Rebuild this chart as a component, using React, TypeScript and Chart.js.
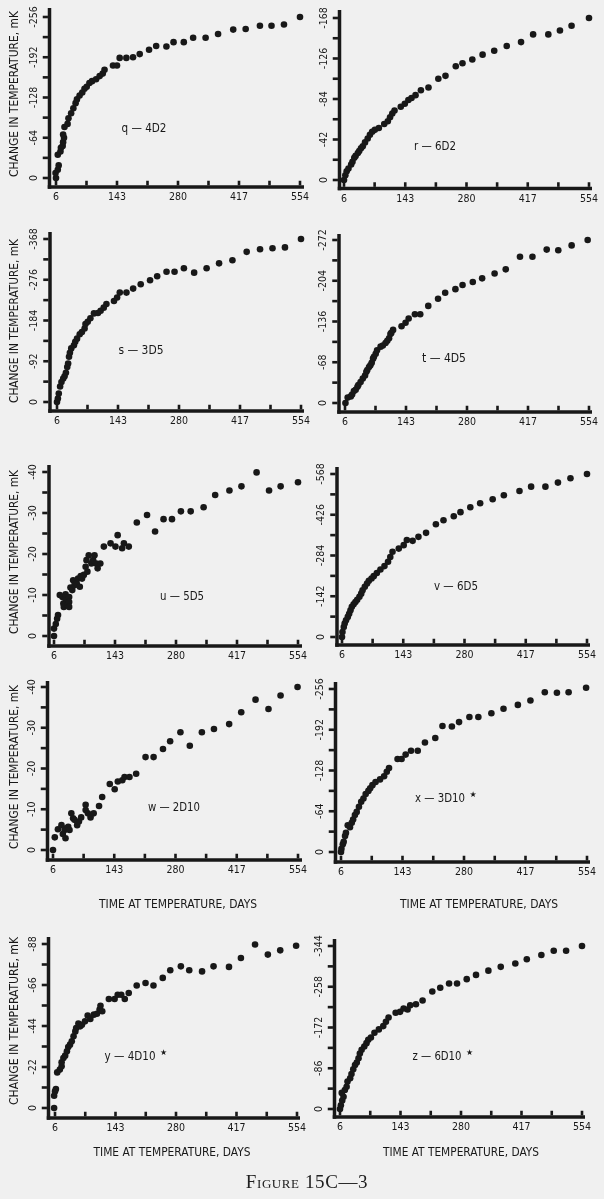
import React, { useEffect, useRef } from 'react';
import { Chart, registerables } from 'chart.js';

Chart.register(...registerables);

// ---------------- data ----------------
const xTickValues = [6, 143, 280, 417, 554];

const qDays = [6, 5, 10, 12, 10, 16, 17, 21, 22, 24, 22, 25, 32, 34, 40, 45, 50, 53, 59, 65, 70, 75, 81, 87, 96, 104, 111, 115, 134, 143, 149, 164, 179, 194, 215, 231, 254, 270, 293, 314, 342, 370, 404, 432, 464, 490, 518, 554];
const qChange = [0, -8, -13, -20, -37, -42, -48, -51, -57, -64, -69, -81, -86, -95, -103, -111, -119, -125, -131, -136, -142, -145, -151, -154, -157, -162, -166, -172, -179, -179, -191, -191, -192, -197, -204, -210, -209, -216, -216, -223, -223, -229, -236, -237, -242, -242, -244, -256];
const qTicks = [0, -64, -128, -192, -256];

const rDays = [6, 9, 12, 16, 22, 25, 29, 32, 37, 40, 44, 48, 53, 59, 64, 69, 75, 84, 96, 104, 109, 114, 119, 133, 142, 150, 157, 166, 178, 195, 217, 233, 256, 271, 293, 316, 342, 370, 402, 429, 463, 489, 515, 554];
const rChange = [0, -5, -9, -12, -16, -19, -23, -25, -28, -30, -33, -35, -39, -43, -47, -50, -52, -54, -58, -61, -65, -69, -72, -76, -79, -83, -85, -88, -93, -96, -105, -108, -118, -121, -125, -130, -134, -139, -143, -151, -151, -155, -160, -168];
const rTicks = [0, -42, -84, -126, -168];

const sDays = [6, 8, 10, 13, 16, 20, 23, 26, 29, 31, 33, 35, 38, 44, 47, 51, 57, 62, 68, 70, 75, 81, 89, 98, 104, 111, 117, 134, 141, 147, 162, 177, 194, 215, 231, 252, 270, 291, 314, 342, 370, 400, 432, 462, 490, 518, 554];
const sChange = [0, -8, -19, -35, -45, -53, -58, -66, -79, -87, -102, -111, -121, -128, -136, -143, -153, -158, -166, -176, -181, -189, -200, -201, -206, -213, -221, -228, -236, -247, -247, -256, -266, -275, -284, -294, -294, -302, -292, -302, -313, -320, -339, -345, -347, -349, -368];
const sTicks = [0, -92, -184, -276, -368];

const tDays = [7, 12, 19, 22, 26, 30, 34, 36, 41, 46, 51, 54, 56, 60, 63, 66, 69, 71, 75, 78, 86, 91, 97, 101, 105, 108, 110, 114, 133, 142, 149, 163, 175, 193, 215, 231, 254, 270, 293, 314, 342, 367, 399, 427, 459, 485, 515, 551];
const tChange = [0, -9, -11, -14, -20, -22, -27, -30, -35, -41, -46, -52, -55, -60, -63, -67, -74, -77, -82, -88, -94, -96, -100, -104, -108, -115, -117, -122, -128, -134, -141, -148, -148, -162, -174, -184, -190, -197, -202, -208, -216, -223, -244, -244, -256, -255, -263, -272];
const tTicks = [0, -68, -136, -204, -272];

const uDays = [6, 6, 10, 13, 15, 19, 25, 27, 28, 32, 32, 36, 40, 40, 40, 43, 47, 49, 52, 57, 60, 64, 66, 69, 73, 77, 79, 81, 84, 90, 94, 97, 101, 104, 110, 118, 133, 144, 149, 159, 163, 174, 192, 215, 233, 252, 271, 291, 313, 342, 368, 400, 427, 461, 489, 515, 554];
const uChange = [0, -1.8, -2.9, -4.2, -5.1, -10, -9.5, -7.9, -7.1, -9.1, -10.2, -7.5, -9.5, -8.3, -7.1, -11.8, -11.2, -13.6, -12.4, -12.8, -14, -12, -14.6, -14, -14.9, -16.9, -18.5, -15.7, -19.7, -17.7, -18.5, -19.7, -17.7, -16.5, -17.7, -21.8, -22.6, -21.8, -24.6, -21.4, -22.6, -21.8, -27.7, -29.5, -25.5, -28.5, -28.5, -30.4, -30.4, -31.4, -34.4, -35.5, -36.5, -39.9, -35.5, -36.5, -37.5];
const uTicks = [0, -10, -20, -30, -40];

const vDays = [6, 7, 10, 12, 15, 19, 22, 25, 28, 32, 36, 40, 45, 49, 52, 57, 62, 66, 72, 77, 84, 92, 101, 109, 114, 119, 133, 144, 151, 164, 177, 194, 216, 233, 256, 271, 293, 315, 343, 368, 403, 429, 461, 489, 517, 554];
const vChange = [0, -17, -35, -47, -58, -70, -81, -93, -105, -114, -122, -130, -140, -151, -163, -175, -186, -196, -204, -212, -223, -235, -247, -262, -279, -297, -308, -320, -338, -335, -349, -363, -393, -407, -421, -435, -452, -466, -480, -494, -509, -524, -524, -538, -553, -568];
const vTicks = [0, -142, -284, -426, -568];

const wDays = [6, 10, 17, 25, 28, 32, 34, 36, 40, 43, 47, 51, 54, 60, 64, 69, 79, 79, 84, 90, 97, 109, 116, 133, 144, 151, 161, 166, 177, 192, 213, 231, 252, 268, 291, 312, 339, 366, 400, 427, 459, 488, 515, 553];
const wChange = [0, -3.1, -5.1, -6.1, -3.9, -4.9, -2.9, -5.3, -5.7, -4.9, -9, -7.8, -7.4, -6.1, -7, -8, -11.1, -9.8, -9, -8, -9, -10.8, -13, -16.2, -14.9, -16.8, -17.1, -17.9, -17.9, -18.7, -22.8, -22.8, -24.8, -26.7, -28.9, -25.6, -28.9, -29.7, -30.9, -33.8, -36.9, -34.6, -37.9, -40];
const wTicks = [0, -10, -20, -30, -40];

const xDays = [6, 7, 10, 12, 15, 17, 21, 26, 30, 33, 37, 41, 46, 51, 56, 61, 67, 71, 76, 83, 93, 102, 108, 113, 132, 141, 150, 162, 177, 193, 216, 232, 253, 269, 292, 312, 341, 368, 400, 428, 460, 487, 513, 552];
const xChange = [0, -5, -12, -16, -25, -30, -42, -39, -46, -51, -58, -63, -71, -79, -84, -91, -96, -100, -105, -110, -114, -119, -126, -132, -146, -146, -153, -159, -159, -172, -179, -198, -197, -204, -212, -212, -218, -225, -231, -238, -251, -250, -251, -258];
const xTicksY = [0, -64, -128, -192, -256];

const yDays = [4, 4, 6, 8, 11, 17, 21, 21, 25, 29, 33, 36, 40, 44, 48, 52, 54, 59, 63, 67, 74, 80, 86, 94, 101, 107, 109, 113, 128, 141, 148, 156, 164, 173, 191, 211, 229, 250, 267, 291, 310, 339, 365, 400, 427, 459, 488, 516, 552];
const yChange = [0, -6.6, -8.9, -10.2, -19.1, -20.6, -22.4, -24.5, -26.8, -28.1, -30.4, -32.7, -34, -35.8, -38.5, -41.1, -42.9, -45.3, -43.8, -44.7, -46.5, -49.6, -47.8, -50.1, -50.6, -52.8, -54.9, -51.9, -58.5, -58.5, -60.8, -60.8, -58.5, -61.7, -65.7, -67.1, -65.7, -69.8, -73.9, -76, -73.9, -73.3, -76, -75.7, -80.5, -87.7, -82.3, -84.6, -87.1];
const yTicks = [0, -22, -44, -66, -88];

const zDays = [6, 8, 11, 14, 10, 17, 21, 23, 29, 32, 36, 40, 44, 48, 51, 55, 61, 66, 70, 76, 84, 94, 104, 110, 116, 132, 142, 150, 159, 165, 178, 193, 215, 233, 253, 271, 293, 314, 342, 370, 403, 429, 462, 490, 518, 554];
const zChange = [0, -8, -18, -26, -34, -40, -47, -58, -65, -74, -84, -93, -98, -107, -117, -125, -132, -139, -146, -151, -161, -168, -175, -184, -193, -203, -205, -212, -210, -219, -221, -229, -248, -256, -265, -265, -274, -283, -292, -300, -307, -316, -325, -334, -334, -344];
const zTicks = [0, -86, -172, -258, -344];

const yTitle = 'CHANGE IN TEMPERATURE, mK';
const xTitle = 'TIME AT TEMPERATURE, DAYS';
const caption = 'Figure 15C—3';

// ---------------- layout / style ----------------
const W = 604;
const H = 1199;
const INK = '#181818';
const PAPER = '#f0f0f0';
const FONT = '"Liberation Sans Narrow", "DejaVu Sans Condensed", "Roboto Condensed", "Liberation Sans", sans-serif';

type Geo = { ax: number; top: number; bottom: number; right: number; p6: number; p554: number; p0: number; pTop: number };
type PanelDef = {
  id: string; name: string; star: boolean; days: number[]; change: number[]; ticks: number[]; g: Geo;
  lab: { x: number; y: number; w: number };
  yTitleAt?: { x: number; y: number; w: number };
  xTitleAt?: { x: number; y: number; w: number };
};

const PANELS: PanelDef[] = [
  { id: 'q', name: 'q — 4D2', star: false, days: qDays, change: qChange, ticks: qTicks,
    g: { ax: 49.5, top: 8, bottom: 187, right: 304, p6: 56, p554: 300, p0: 178, pTop: 17 },
    lab: { x: 144, y: 129, w: 45 }, yTitleAt: { x: 15, y: 94, w: 166 } },
  { id: 'r', name: 'r — 6D2', star: false, days: rDays, change: rChange, ticks: rTicks,
    g: { ax: 339.5, top: 10, bottom: 188.5, right: 592, p6: 344, p554: 589, p0: 180, pTop: 18 },
    lab: { x: 435, y: 147, w: 42 } },
  { id: 's', name: 's — 3D5', star: false, days: sDays, change: sChange, ticks: sTicks,
    g: { ax: 50, top: 232, bottom: 411, right: 304, p6: 57, p554: 301, p0: 402, pTop: 239 },
    lab: { x: 141, y: 351, w: 45 }, yTitleAt: { x: 15, y: 321, w: 164 } },
  { id: 't', name: 't — 4D5', star: false, days: tDays, change: tChange, ticks: tTicks,
    g: { ax: 339, top: 234, bottom: 412, right: 592, p6: 345, p554: 589, p0: 403, pTop: 240 },
    lab: { x: 444, y: 359, w: 44 } },
  { id: 'u', name: 'u — 5D5', star: false, days: uDays, change: uChange, ticks: uTicks,
    g: { ax: 49, top: 465, bottom: 646, right: 302, p6: 54, p554: 298, p0: 636, pTop: 472 },
    lab: { x: 182, y: 597, w: 44 }, yTitleAt: { x: 15, y: 552, w: 164 } },
  { id: 'v', name: 'v — 6D5', star: false, days: vDays, change: vChange, ticks: vTicks,
    g: { ax: 337, top: 467, bottom: 645, right: 590, p6: 342, p554: 587, p0: 637, pTop: 474 },
    lab: { x: 456, y: 587, w: 44 } },
  { id: 'w', name: 'w — 2D10', star: false, days: wDays, change: wChange, ticks: wTicks,
    g: { ax: 47.5, top: 681, bottom: 860, right: 302, p6: 53, p554: 298, p0: 850, pTop: 687 },
    lab: { x: 174, y: 808, w: 52 }, yTitleAt: { x: 15, y: 767, w: 164 }, xTitleAt: { x: 178, y: 905, w: 158 } },
  { id: 'x', name: 'x — 3D10', star: true, days: xDays, change: xChange, ticks: xTicksY,
    g: { ax: 335.5, top: 682, bottom: 862, right: 590, p6: 341, p554: 587, p0: 852, pTop: 689 },
    lab: { x: 440, y: 799, w: 50 }, xTitleAt: { x: 479, y: 905, w: 158 } },
  { id: 'y', name: 'y — 4D10', star: true, days: yDays, change: yChange, ticks: yTicks,
    g: { ax: 48.5, top: 937, bottom: 1118, right: 300, p6: 55, p554: 297, p0: 1108, pTop: 944 },
    lab: { x: 130, y: 1057, w: 51 }, yTitleAt: { x: 15, y: 1021, w: 168 }, xTitleAt: { x: 172, y: 1153, w: 157 } },
  { id: 'z', name: 'z — 6D10', star: true, days: zDays, change: zChange, ticks: zTicks,
    g: { ax: 334.5, top: 939, bottom: 1117, right: 585, p6: 340, p554: 582, p0: 1109, pTop: 946 },
    lab: { x: 437, y: 1057, w: 49 }, xTitleAt: { x: 461, y: 1153, w: 156 } },
];

function fittedText(ctx: CanvasRenderingContext2D, text: string, x: number, y: number, width: number, size: number, rotate: boolean) {
  ctx.save();
  ctx.translate(x, y);
  if (rotate) ctx.rotate(-Math.PI / 2);
  ctx.font = `${size}px ${FONT}`;
  ctx.textAlign = 'center';
  ctx.textBaseline = 'middle';
  const m = ctx.measureText(text).width;
  ctx.scale(width / m, 1);
  ctx.fillText(text, 0, 0);
  ctx.restore();
}

function halfSteps(vals: number[]) {
  const out: number[] = [];
  vals.forEach((v, i) => {
    out.push(v);
    if (i < vals.length - 1) out.push((v + vals[i + 1]) / 2);
  });
  return out;
}

function makePaperPlugin(p: PanelDef) {
  return {
    id: 'paper_' + p.id,
    beforeDatasetsDraw(chart: any) {
      const { ctx, chartArea: a } = chart;
      const xs = chart.scales.x;
      const ys = chart.scales.y;
      const lw = 3.5;
      ctx.save();
      ctx.fillStyle = INK;
      // axis lines
      ctx.fillRect(a.left - lw / 2, a.top, lw, a.bottom - a.top + lw / 2);
      ctx.fillRect(a.left - lw / 2, a.bottom - lw / 2, a.right - a.left + lw / 2, lw);
      // x ticks (inward)
      halfSteps(xTickValues).forEach((v) => {
        const px = xs.getPixelForValue(v);
        ctx.fillRect(px - 1.3, a.bottom - lw / 2 - 4.5, 2.6, 4.6);
      });
      // y ticks (outward)
      halfSteps(p.ticks).forEach((v) => {
        const py = ys.getPixelForValue(v);
        ctx.fillRect(a.left - lw / 2 - 5, py - 1.3, 5.2, 2.6);
      });
      // tick labels
      ctx.font = `10.5px ${FONT}`;
      ctx.textAlign = 'center';
      ctx.textBaseline = 'middle';
      xTickValues.forEach((v) => {
        ctx.fillText(String(v), xs.getPixelForValue(v), a.bottom + 10.5);
      });
      p.ticks.forEach((v) => {
        const py = ys.getPixelForValue(v);
        ctx.save();
        ctx.translate(a.left - 15.5, py);
        ctx.rotate(-Math.PI / 2);
        ctx.fillText(String(v), 0, 0);
        ctx.restore();
      });
      // panel label
      fittedText(ctx, p.name, p.lab.x, p.lab.y, p.lab.w, 11.5, false);
      if (p.star) {
        ctx.font = `8px "DejaVu Sans", sans-serif`;
        ctx.fillText('★', p.lab.x + p.lab.w / 2 + 8, p.lab.y - 4);
      }
      if (p.yTitleAt) fittedText(ctx, yTitle, p.yTitleAt.x, p.yTitleAt.y, p.yTitleAt.w, 12.5, true);
      if (p.xTitleAt) fittedText(ctx, xTitle, p.xTitleAt.x, p.xTitleAt.y, p.xTitleAt.w, 12, false);
      ctx.restore();
    },
  };
}

function Panel({ p }: { p: PanelDef }) {
  const ref = useRef<HTMLCanvasElement | null>(null);
  useEffect(() => {
    const g = p.g;
    const kx = (554 - 6) / (g.p554 - g.p6);
    const xMin = 6 - (g.p6 - g.ax) * kx;
    const xMax = 554 + (g.right - g.p554) * kx;
    const topVal = p.ticks[p.ticks.length - 1];
    const ky = -topVal / (g.p0 - g.pTop);
    const yMin = topVal - (g.pTop - g.top) * ky;
    const yMax = (g.bottom - g.p0) * ky;
    const chart = new Chart(ref.current as HTMLCanvasElement, {
      type: 'scatter',
      data: {
        datasets: [
          {
            data: p.days.map((d, i) => ({ x: d, y: p.change[i] })),
            backgroundColor: INK,
            borderWidth: 0,
            pointRadius: 3.3,
            pointHoverRadius: 3.3,
            clip: false as any,
          },
        ],
      },
      options: {
        animation: false,
        responsive: false,
        devicePixelRatio: 1,
        events: [],
        layout: { padding: { left: g.ax, top: g.top, right: W - g.right, bottom: H - g.bottom } },
        plugins: { legend: { display: false }, tooltip: { enabled: false } },
        scales: {
          x: { type: 'linear', display: false, min: xMin, max: xMax, bounds: 'data' },
          y: { type: 'linear', display: false, reverse: true, min: yMin, max: yMax, bounds: 'data' },
        },
      },
      plugins: [makePaperPlugin(p)],
    } as any);
    return () => chart.destroy();
  }, [p]);
  return (
    <canvas
      ref={ref}
      width={W}
      height={H}
      style={{ position: 'absolute', left: 0, top: 0, width: W, height: H }}
    />
  );
}

export default function App() {
  return (
    <div style={{ position: 'absolute', left: 0, top: 0, width: W, height: H, background: PAPER, overflow: 'hidden' }}>
      {PANELS.map((p) => (
        <Panel key={p.id} p={p} />
      ))}
      <div
        style={{
          position: 'absolute',
          left: 0,
          width: W + 10,
          top: 1170,
          textAlign: 'center',
          fontFamily: '"Liberation Serif", "DejaVu Serif", serif',
          fontVariant: 'small-caps',
          fontSize: 19,
          letterSpacing: 0.6,
          color: '#202020',
          lineHeight: '24px',
        }}
      >
        {caption}
      </div>
    </div>
  );
}
